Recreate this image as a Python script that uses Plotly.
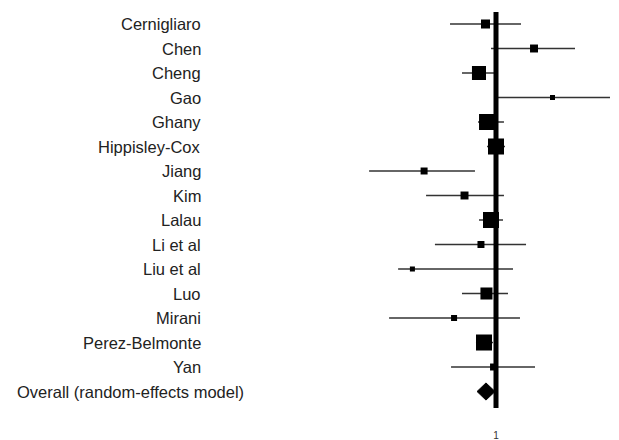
import plotly.graph_objects as go

# ---- data ----
studies = ["Cernigliaro", "Chen", "Cheng", "Gao", "Ghany", "Hippisley-Cox", "Jiang", "Kim",
           "Lalau", "Li et al", "Liu et al", "Luo", "Mirani", "Perez-Belmonte", "Yan"]
odds_ratio = [0.886, 1.549, 0.822, 1.917, 0.902, 1.000, 0.437, 0.696,
              0.944, 0.841, 0.382, 0.896, 0.617, 0.871, 0.972]
ci_lower = [0.589, 0.944, 0.676, 1.023, 0.813, 0.902, 0.232, 0.447,
            0.822, 0.495, 0.324, 0.676, 0.292, 0.794, 0.596]
ci_upper = [1.334, 2.483, 1.010, 3.715, 1.096, 1.109, 0.785, 1.096,
            1.084, 1.413, 1.216, 1.148, 1.318, 0.966, 1.567]
weights = [4.5, 3.5, 10.9, 1.4, 14.2, 14.2, 2.7, 3.5, 14.2, 2.7, 1.4, 8.0, 2.0, 14.2, 2.7]

overall_label = "Overall (random-effects model)"
overall_or = 0.891
overall_lower = 0.804
overall_upper = 0.989

x_tick_vals = [1]
x_tick_text = ["1"]

# ---- build ----
W, H = 619, 440
rows = list(range(1, len(studies) + 1))
overall_row = len(studies) + 1

fig = go.Figure()

# confidence interval lines
ci_x, ci_y = [], []
for lo, hi, r in zip(ci_lower, ci_upper, rows):
    ci_x += [lo, hi, None]
    ci_y += [r, r, None]
fig.add_trace(go.Scatter(x=ci_x, y=ci_y, mode="lines",
                         line=dict(color="#333333", width=1.5),
                         hoverinfo="skip", showlegend=False))

# vertical null line
fig.add_trace(go.Scatter(x=[1, 1], y=[0.51, overall_row + 0.67], mode="lines",
                         line=dict(color="black", width=5),
                         hoverinfo="skip", showlegend=False))

# study squares (size ~ sqrt of weight)
sizes = [4.25 * (w ** 0.5) for w in weights]
fig.add_trace(go.Scatter(x=odds_ratio, y=rows, mode="markers",
                         marker=dict(symbol="square", size=sizes, color="black",
                                     opacity=1, line=dict(width=0)),
                         showlegend=False))

# overall diamond
h = 0.35
fig.add_trace(go.Scatter(x=[overall_lower, overall_or, overall_upper, overall_or, overall_lower],
                         y=[overall_row, overall_row - h, overall_row, overall_row + h, overall_row],
                         mode="lines", fill="toself", fillcolor="black",
                         line=dict(color="black", width=1),
                         hoverinfo="skip", showlegend=False))

# study labels (right aligned) and overall label (left aligned)
label_font = dict(family="Liberation Sans, Arial, sans-serif", size=16.5, color="#222222")
for name, r in zip(studies, rows):
    fig.add_annotation(x=203 / W, xref="paper", y=r, yref="y", text=name,
                       xanchor="right", yanchor="middle", showarrow=False, font=label_font)
fig.add_annotation(x=15 / W, xref="paper", y=overall_row, yref="y", text=overall_label,
                   xanchor="left", yanchor="middle", showarrow=False, font=label_font)

fig.update_layout(
    width=W, height=H,
    margin=dict(l=0, r=0, t=0, b=20),
    paper_bgcolor="white", plot_bgcolor="white",
    font=dict(family="Liberation Sans, Arial, sans-serif", color="#222222"),
)
fig.update_xaxes(type="log", range=[-2.48, 0.615],
                 tickvals=x_tick_vals, ticktext=x_tick_text,
                 ticks="outside", ticklen=6, tickcolor="rgba(0,0,0,0)",
                 tickfont=dict(size=10, color="#333333"),
                 showgrid=False, zeroline=False, showline=False)
fig.update_yaxes(range=[17.163, 0.0204], showticklabels=False,
                 showgrid=False, zeroline=False, showline=False)

fig.write_html("out.html", config={"displayModeBar": False},
               post_script="document.body.style.margin='0';document.body.style.overflow='hidden';")
